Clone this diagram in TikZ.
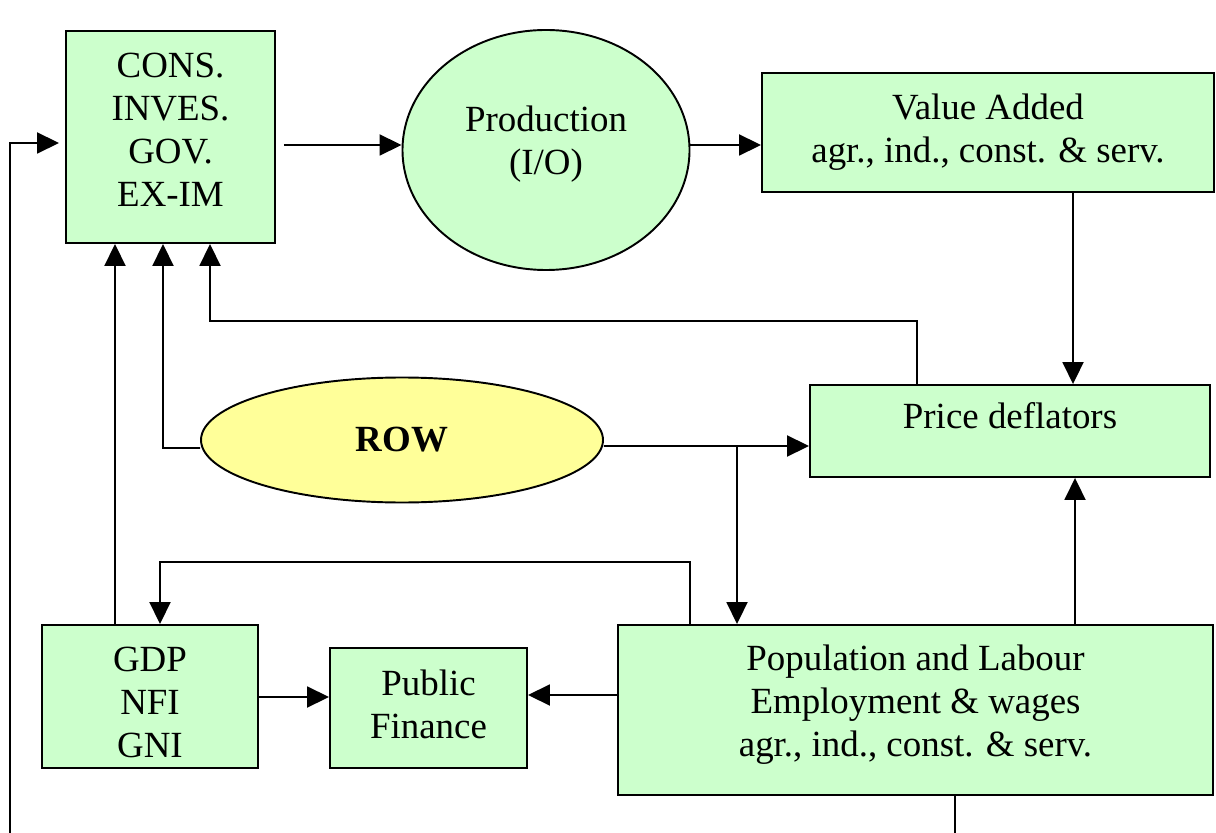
\documentclass[tikz,border=0pt]{standalone}
\usepackage{fontspec}
\setmainfont{Liberation Serif}
\usetikzlibrary{arrows.meta,shapes.geometric}
\definecolor{boxgreen}{HTML}{CCFFCC}
\definecolor{rowyellow}{HTML}{FFFF99}
\tikzset{
	box/.style={draw, line width=1.1pt, fill=boxgreen, align=center, inner sep=0pt},
	txt/.style={align=center, inner sep=0pt},
	arr/.style={line width=1.1pt, -{Triangle[length=0.44cm,width=0.42cm]}},
	ln/.style={line width=1.1pt}
}
\begin{document}
\begin{tikzpicture}[x=0.2mm, y=-0.2mm, font=\fontsize{21}{24.5}\selectfont]
			%%%%% START %%%%%
			\useasboundingbox (0, 0) rectangle (1216, 833);
			
			% nodes
			\node[box, minimum width=4.18cm, minimum height=4.24cm,
				label={[txt, yshift=0.14cm]center:{CONS.\\INVES.\\GOV.\\EX-IM}}] (dem) at (170.5, 137) {};
			\node[box, ellipse, minimum width=5.74cm, minimum height=4.8cm,
				label={[txt, yshift=0.12cm]center:{Production\\(I/O)}}] (prod) at (546, 150) {};
			\node[box, minimum width=9.04cm, minimum height=2.38cm] (va) at (988, 132.5) {Value Added\\agr., ind., const. \& serv.};
			\node[box, minimum width=8cm, minimum height=1.84cm,
				label={[txt, yshift=0.3cm]center:{Price deflators}}] (price) at (1010, 431) {};
			\node[box, ellipse, fill=rowyellow, minimum width=8.04cm, minimum height=2.5cm, font=\fontsize{21}{24.5}\selectfont\bfseries] (row) at (402, 440) {ROW};
			\node[box, minimum width=4.32cm, minimum height=2.86cm,
				label={[txt, yshift=-0.12cm]center:{GDP\\NFI\\GNI}}] (gdp) at (150, 696.5) {};
			\node[box, minimum width=3.94cm, minimum height=2.4cm,
				label={[txt, yshift=0.08cm]center:{Public\\Finance}}] (pub) at (428.5, 708) {};
			\node[box, minimum width=11.9cm, minimum height=3.4cm,
				label={[txt, yshift=0.1cm]center:{Population and Labour\\Employment \& wages\\agr., ind., const. \& serv.}}] (pop) at (915.5, 710) {};
			
			% loop ends at the lower edge
			\coordinate (loopR) at (955, 833);
			\coordinate (loopL) at (10, 833);
			
			% top row
			\draw[arr] ([xshift=0.16cm]dem.east |- 0, 145) -- (prod.west |- 0, 145);
			\draw[arr] (prod.east |- 0, 145) -- (va.west |- 0, 145);
			\draw[arr] (va.south -| 1073, 0) -- (price.north -| 1073, 0);
			
			% feedback into demand
			\draw[arr] (price.north -| 917, 0) -- (917, 321) -- (210, 321) -- (dem.south -| 210, 0);
			\draw[arr] ([yshift=-0.16cm]row.west) -- (163, 448) -- (dem.south -| 163, 0);
			\draw[arr] (gdp.north -| 115, 0) -- (dem.south -| 115, 0);
			
			% ROW to prices and labour
			\draw[arr] ([yshift=-0.12cm]row.east) -- (price.west |- 0, 446);
			\draw[arr] (737, 446) -- (pop.north -| 737, 0);
			
			% labour block
			\draw[arr] (pop.north -| 690, 0) -- (690, 562) -- (160, 562) -- (gdp.north -| 160, 0);
			\draw[arr] (pop.north -| 1075, 0) -- (price.south -| 1075, 0);
			\draw[arr] (pop.west |- 0, 695) -- (pub.east |- 0, 695);
			\draw[arr] (gdp.east |- 0, 697) -- (pub.west |- 0, 697);
			
			% loop back
			\draw[ln] (pop.south -| loopR) -- (loopR);
			\draw[arr] (loopL) -- (10, 143) -- ([xshift=-0.12cm]dem.west |- 0, 143);
			
			%%%%% END %%%%%
		\end{tikzpicture}
\end{document}
